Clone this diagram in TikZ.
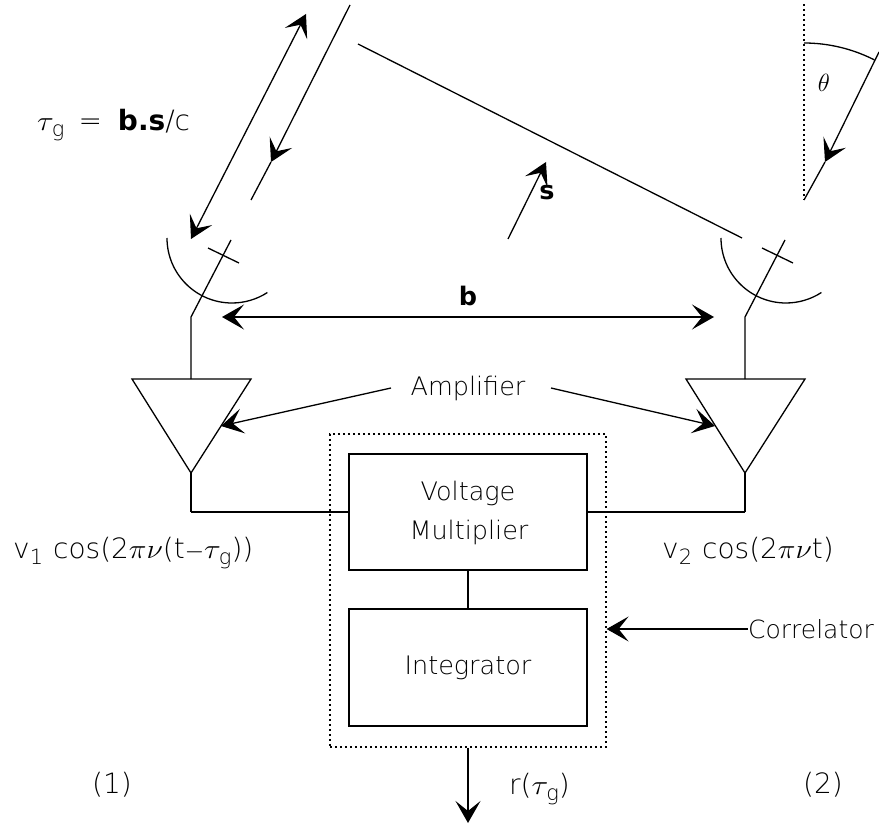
\documentclass[tikz,border=0pt]{standalone}
\usepackage{fontspec}
\setmainfont{DejaVu Sans ExtraLight}
\newfontfamily\boldf{DejaVu Sans Bold}
\usetikzlibrary{arrows.meta}
\newcommand{\bsym}[1]{{\boldf #1}}
\newcommand{\lowsub}[1]{\raisebox{-6pt}{\fontsize{21}{24}\selectfont #1}}
\newcommand{\tausym}{\scalebox{1.25}[1.1]{$\tau$}}
\newcommand{\pisym}{\scalebox{1.2}[1.1]{$\pi$}}
\newcommand{\nusym}{\scalebox{1.2}[1.1]{$\nu$}}
\tikzset{
  x=1pt,y=-1pt,
  wire/.style={line width=1.3pt,black},
  head/.style={-{Stealth[length=22pt,width=25pt,inset=10pt]}},
  heads/.style={{Stealth[length=22pt,width=25pt,inset=10pt]}-{Stealth[length=22pt,width=25pt,inset=10pt]}},
  dots/.style={line width=1.2pt,dash pattern=on 2.2pt off 2.8pt},
  lbl/.style={inner sep=0pt,font=\fontsize{25.5}{30}\selectfont},
  mathlbl/.style={inner sep=0pt,font=\fontsize{28}{32}\selectfont},
  box/.style={draw,line width=1.4pt,inner sep=0pt},
}
\begin{document}
\begin{tikzpicture}
\useasboundingbox (0,0) rectangle (879,829);
\clip (0,0) rectangle (879,829);
% wavefronts and rays
\coordinate (r1a) at (350,5);
\coordinate (r1m) at (271,162);
\coordinate (r1b) at (251,200);
\coordinate (d1a) at (306,14);
\coordinate (d1b) at (191,239);
\coordinate (wa) at (358,44);
\coordinate (wb) at (742,238);
\coordinate (sa) at (508,239);
\coordinate (sb) at (546,162);
\coordinate (t0) at (804,4);
\coordinate (t1) at (804,200);
\coordinate (t2) at (879,52);
\coordinate (t2m) at (825,162);
\draw[wire,head] (r1a) -- (r1m);
\draw[wire] (r1m) -- (r1b);
\draw[wire,heads] (d1a) -- (d1b);
\draw[wire] (wa) -- (wb);
\draw[wire,head] (sa) -- (sb);
\draw[dots] (t0) -- (t1);
\draw[wire,head] (t2) -- (t2m);
\draw[wire] (t2m) -- (t1);
\draw[wire] (804,43) arc[start angle=-90,end angle=-63,radius=155];
% antennas
\foreach \n/\dx in {L/0,R/554}{
  \begin{scope}[xshift=\dx pt]
    \coordinate (feed\n) at (231,240);
    \coordinate (kink\n) at (191,317);
    \coordinate (barA\n) at (208,248);
    \coordinate (barB\n) at (239,263);
    \coordinate (ampTL\n) at (132,379);
    \coordinate (ampTR\n) at (251,379);
    \coordinate (ampT\n) at (191,379);
    \coordinate (ampB\n) at (191,473);
    \coordinate (low\n) at (191,512);
    \draw[wire] (167,238) arc[start angle=180,end angle=57,radius=65];
    \draw[wire] (feed\n) -- (kink\n) -- (ampT\n);
    \draw[wire] (barA\n) -- (barB\n);
    \draw[wire,line join=miter] (ampTL\n) -- (ampTR\n) -- (ampB\n) -- cycle;
    \draw[wire] (ampB\n) -- (low\n);
  \end{scope}
}
% boxes
\node[box,minimum width=238pt,minimum height=116pt] (vm) at (468,512) {};
\node[box,minimum width=238pt,minimum height=117pt] (int) at (468,667.5) {};
\node[draw,dots,inner sep=0pt,minimum width=276pt,minimum height=313pt] (corr) at (468,590.5) {};
\draw[wire] (lowL) -- (vm.west);
\draw[wire] (lowR) -- (vm.east);
\draw[wire] (vm.south) -- (int.north);
\coordinate (out) at (468,823);
\draw[wire,head] (corr.south) -- (out);
% labels
\node[lbl] (volt) at (468,493) {Voltage};
\node[lbl] (mult) at (469,532) {Multiplier};
\node[lbl] (integ) at (468,668) {Integrator};
\node[lbl] (amp) at (468,388) {Amplifier};
\node[lbl,font=\fontsize{25}{30}\selectfont] (cor) at (811,629) {Correlator};
\node[mathlbl,anchor=base west] (tg) at (37,131) {\tausym\hspace{-2pt}\lowsub{g}\hspace{14pt}=\hspace{16pt}\bsym{b.s}/c};
\node[mathlbl,anchor=base west] (v1) at (13,558) {v\lowsub{1}\hspace{10pt}cos(2\pisym\nusym(t$-$\tausym\hspace{-2pt}\lowsub{g}))};
\node[mathlbl,anchor=base west] (v2) at (662,558) {v\lowsub{2}\hspace{10pt}cos(2\pisym\nusym t)};
\node[mathlbl] (one) at (112,785) {(1)};
\node[mathlbl] (two) at (823,785) {(2)};
\node[mathlbl,anchor=base west] (rt) at (509,794) {r(\tausym\hspace{-2pt}\lowsub{g})};
\node[lbl] (b) at (468,296) {\bsym{b}};
\node[lbl] (s) at (547,193) {\bsym{s}};
\node[lbl] (th) at (824,83) {$\theta$};
% label arrows
\coordinate (ampLs) at (391,388);
\coordinate (ampLe) at (221,426);
\coordinate (ampRs) at (551,388);
\coordinate (ampRe) at (715,426);
\draw[wire,head] (ampLs) -- (ampLe);
\draw[wire,head] (ampRs) -- (ampRe);
\draw[wire,head] (cor.west) -- (corr.east |- cor.west);
\coordinate (bL) at (222,317);
\coordinate (bR) at (714,317);
\draw[wire,heads] (bL) -- (bR);
\end{tikzpicture}
\end{document}
